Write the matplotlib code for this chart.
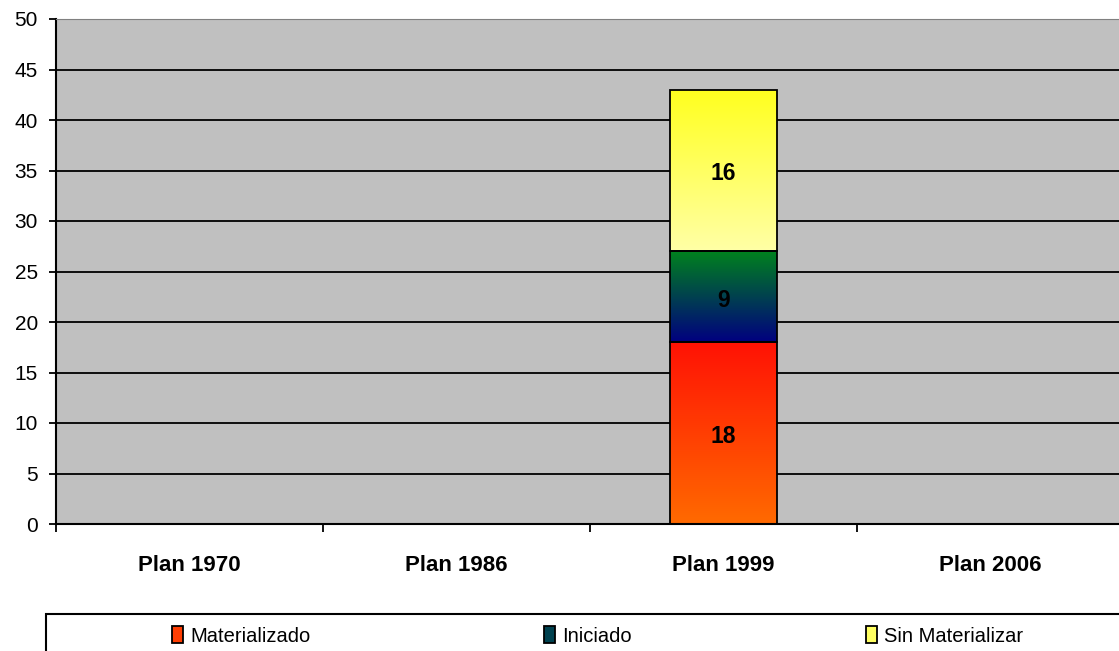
import matplotlib.pyplot as plt
import matplotlib.patches as mpatches
import numpy as np
from matplotlib.colors import LinearSegmentedColormap, to_rgb

plt.rcParams["font.family"] = ["Liberation Sans", "DejaVu Sans"]

categories = ["Plan 1970", "Plan 1986", "Plan 1999", "Plan 2006"]
series_names = ["Materializado", "Iniciado", "Sin Materializar"]
materializado = [0, 0, 18, 0]
iniciado = [0, 0, 9, 0]
sin_materializar = [0, 0, 16, 0]
yticks = list(range(0, 51, 5))

# (top colour, bottom colour) of each gradient fill
gradients = [("#ff1205", "#ff6a00"), ("#00821e", "#000080"), ("#ffff1e", "#ffffa6")]

W, H = 1119, 651
fig = plt.figure(figsize=(W / 100, H / 100), dpi=100)
ax = fig.add_axes([56 / W, (H - 524) / H, (1124 - 56) / W, (524 - 19) / H])
ax.set_facecolor("#c0c0c0")

x = np.arange(len(categories)) + 0.5
bottom = np.zeros(len(categories))
grad = np.linspace(0, 1, 256).reshape(-1, 1)
for name, vals, (c_top, c_bot) in zip(series_names,
                                      [materializado, iniciado, sin_materializar],
                                      gradients):
    vals = np.array(vals, dtype=float)
    bars = ax.bar(x, vals, width=0.4, bottom=bottom, facecolor="none",
                  edgecolor="black", linewidth=1.3, zorder=3)
    cmap = LinearSegmentedColormap.from_list(name, [c_bot, c_top])
    for b, v, bt in zip(bars, vals, bottom):
        if v <= 0:
            continue
        x0 = b.get_x()
        im = ax.imshow(grad, cmap=cmap, aspect="auto", origin="lower",
                       extent=(x0, x0 + b.get_width(), bt, bt + v), zorder=2)
        im.set_clip_path(b)
        ax.annotate(f"{int(v)}", (b.get_x() + b.get_width() / 2, bt + v / 2),
                    xytext=(0, -2.5), textcoords="offset points",
                    ha="center", va="center", fontsize=16.5, fontweight="bold",
                    zorder=4)
    bottom += vals

ax.set_xlim(0, len(categories))
ax.set_ylim(0, 50)
ax.set_yticks(yticks)
ax.tick_params(axis="y", labelsize=15, length=5, width=1.3, pad=8)
ax.set_xticks(np.arange(len(categories) + 1))
ax.set_xticklabels([])
ax.tick_params(axis="x", length=6, width=1.3, direction="out")
ax.set_xticks(x, minor=True)
ax.set_xticklabels(categories, minor=True, fontsize=16, fontweight="bold")
ax.tick_params(axis="x", which="minor", length=0, pad=22)
ax.grid(axis="y", color="black", linewidth=1.3, zorder=1)
ax.set_axisbelow(True)
for s in ["left", "bottom"]:
    ax.spines[s].set_linewidth(1.5)
    ax.spines[s].set_color("black")
ax.spines["top"].set_color("#808080")
ax.spines["right"].set_visible(False)

# legend box along the bottom
left, right, y0, y1 = 46, 1125, 614, 660
fig.patches.append(mpatches.Rectangle((left / W, (H - y1) / H), (right - left) / W,
                                      (y1 - y0) / H, transform=fig.transFigure,
                                      facecolor="white", edgecolor="black",
                                      linewidth=1.5))
legend_x = [241, 588, 945]
for lx, name, (c_top, c_bot) in zip(legend_x, series_names, gradients):
    mid = tuple((np.array(to_rgb(c_top)) + np.array(to_rgb(c_bot))) / 2)
    h = mpatches.Patch(facecolor=mid, edgecolor="black", linewidth=1.3)
    fig.legend([h], [name], loc="center",
               bbox_to_anchor=(lx / W, (H - 636) / H),
               frameon=False, fontsize=14.5, handlelength=0.55,
               handleheight=0.85, handletextpad=0.35)

fig.savefig("out.png", dpi=100)
